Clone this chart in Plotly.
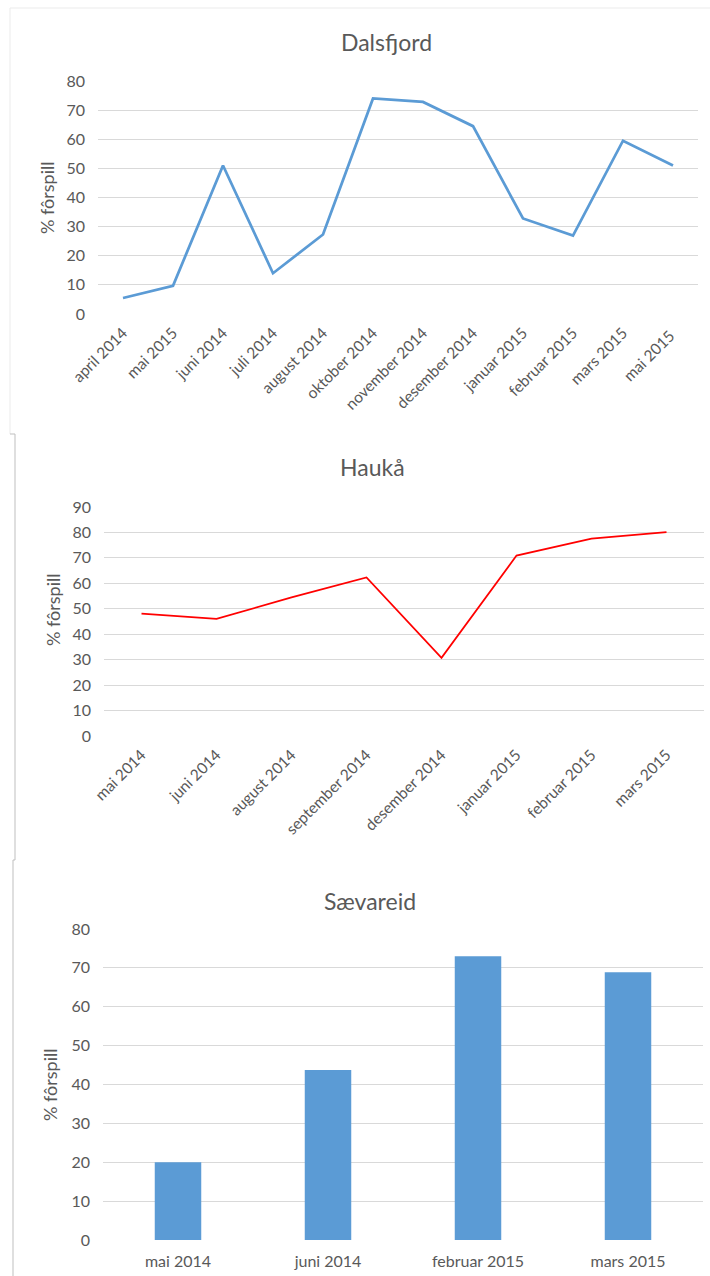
import plotly.graph_objects as go

W, H = 710, 1276

# ---- data ----
dals_months = ["april 2014", "mai 2015", "juni 2014", "juli 2014", "august 2014", "oktober 2014",
               "november 2014", "desember 2014", "januar 2015", "februar 2015", "mars 2015", "mai 2015 "]
dals_values = [5.5, 9.7, 51, 14, 27.3, 74, 72.8, 64.5, 32.8, 26.9, 59.5, 51]

hauk_months = ["mai 2014", "juni 2014", "august 2014", "september 2014", "desember 2014",
               "januar 2015", "februar 2015", "mars 2015"]
hauk_values = [48.1, 46.0, 54.5, 62.3, 30.7, 70.9, 77.6, 80.1]

saev_months = ["mai 2014", "juni 2014", "februar 2015", "mars 2015"]
saev_values = [20, 43.7, 73, 68.9]

FONT = "Lato, 'Open Sans', sans-serif"
TXT = "#595959"
GRID = "#D9D9D9"
BLUE = "#5B9BD5"


def py(px):
    return 1 - px / H


def pxx(px):
    return px / W


fig = go.Figure()
fig.add_trace(go.Scatter(x=dals_months, y=dals_values, mode="lines",
                         line=dict(color=BLUE, width=2.75), xaxis="x", yaxis="y", showlegend=False))
fig.add_trace(go.Scatter(x=hauk_months, y=hauk_values, mode="lines",
                         line=dict(color="#FF0000", width=1.75), xaxis="x2", yaxis="y2", showlegend=False))
fig.add_trace(go.Bar(x=saev_months, y=saev_values, marker=dict(color=BLUE, line=dict(width=0)),
                     xaxis="x3", yaxis="y3", showlegend=False))

xcommon = dict(type="category", showgrid=False, zeroline=False, showline=False, ticks="",
               automargin=False, tickfont=dict(family=FONT, size=15.5, color=TXT))
ycommon = dict(showgrid=True, gridcolor=GRID, gridwidth=1, zeroline=False, showline=False, ticks="",
               automargin=False, tickfont=dict(family=FONT, size=16, color=TXT), dtick=10,
               ticklabelstandoff=12)

fig.update_layout(
    width=W, height=H, margin=dict(l=0, r=0, t=0, b=0, pad=0, autoexpand=False),
    paper_bgcolor="white", plot_bgcolor="white", showlegend=False,
    bargap=0.69,
    xaxis=dict(xcommon, domain=[pxx(98), pxx(698)], anchor="y", tickangle=-45,
               range=[-0.5, len(dals_months) - 0.5], ticklabelstandoff=6),
    yaxis=dict(ycommon, domain=[py(314), py(81)], range=[0, 80], anchor="x"),
    xaxis2=dict(xcommon, domain=[pxx(104), pxx(704)], anchor="y2", tickangle=-45,
                range=[-0.5, len(hauk_months) - 0.5], ticklabelstandoff=6),
    yaxis2=dict(ycommon, domain=[py(736), py(507)], range=[0, 90], anchor="x2"),
    xaxis3=dict(xcommon, domain=[pxx(103), pxx(703)], anchor="y3", tickangle=0,
                range=[-0.5, len(saev_months) - 0.5], ticklabelstandoff=10,
                tickfont=dict(family=FONT, size=16, color=TXT)),
    yaxis3=dict(ycommon, domain=[py(1240), py(929)], range=[0, 80], anchor="x3"),
)

titles = [("Dalsfjord", 386, 42), ("Haukå", 372, 467), ("Sævareid", 370, 901)]
for t, x, y in titles:
    fig.add_annotation(text=t, x=pxx(x), y=py(y), xref="paper", yref="paper",
                       showarrow=False, font=dict(family=FONT, size=23, color=TXT),
                       xanchor="center", yanchor="middle")

ytitles = [(47, 198), (53, 610), (50, 1085)]
for x, y in ytitles:
    fig.add_annotation(text="% fôrspill", x=pxx(x), y=py(y), xref="paper", yref="paper",
                       showarrow=False, textangle=-90, font=dict(family=FONT, size=18, color=TXT),
                       xanchor="center", yanchor="middle")

# chart frames
shapes = [
    dict(type="line", x0=pxx(10), x1=pxx(710), y0=py(8), y1=py(8), line=dict(color="#EBEBEB", width=1)),
    dict(type="line", x0=pxx(10), x1=pxx(10), y0=py(8), y1=py(434), line=dict(color="#EBEBEB", width=1)),
    dict(type="line", x0=pxx(10), x1=pxx(15), y0=py(434), y1=py(434), line=dict(color="#BFBFBF", width=1)),
    dict(type="line", x0=pxx(15), x1=pxx(15), y0=py(434), y1=py(860), line=dict(color="#BFBFBF", width=1)),
    dict(type="line", x0=pxx(13), x1=pxx(15), y0=py(860), y1=py(860), line=dict(color="#BFBFBF", width=1)),
    dict(type="line", x0=pxx(13), x1=pxx(13), y0=py(860), y1=py(1276), line=dict(color="#BFBFBF", width=1)),
]
for s in shapes:
    s.update(xref="paper", yref="paper", layer="below")
fig.update_layout(shapes=shapes)

fig.write_html("out.html")
